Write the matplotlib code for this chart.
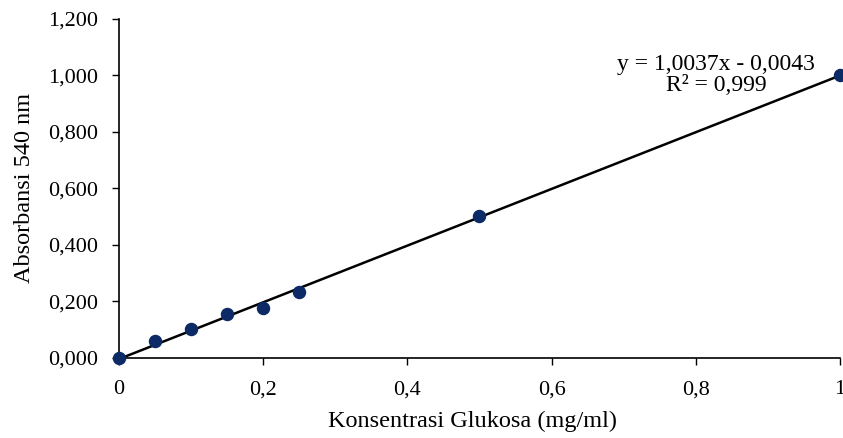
import numpy as np
import matplotlib
matplotlib.use("Agg")
import matplotlib.pyplot as plt

plt.rcParams['font.family'] = ['Liberation Serif', 'DejaVu Serif']

# data kurva standar glukosa
konsentrasi = [0, 0.05, 0.1, 0.15, 0.2, 0.25, 0.5, 1.0]
absorbansi = [0.0, 0.058, 0.101, 0.155, 0.178, 0.233, 0.502, 1.0]
slope = 1.0037
intercept = -0.0043

x_ticks = [0, 0.2, 0.4, 0.6, 0.8, 1.0]
x_labels = ['0', '0,2', '0,4', '0,6', '0,8', '1']
y_ticks = [0, 0.2, 0.4, 0.6, 0.8, 1.0, 1.2]
y_labels = ['0,000', '0,200', '0,400', '0,600', '0,800', '1,000', '1,200']

fig = plt.figure(figsize=(8.43, 4.38), dpi=100)
ax = fig.add_axes([0.141, 0.183, 0.8555, 0.774])

# garis regresi
xl = np.array([0, 1.0])
ax.plot(xl, slope * xl + intercept, color='black', lw=1.8, zorder=2)
ax.scatter(konsentrasi, absorbansi, s=75, color='#0b2a66', zorder=3, clip_on=False)

ax.set_xlim(0, 1.0)
ax.set_ylim(0, 1.2)
ax.set_xticks(x_ticks)
ax.set_xticklabels(x_labels)
ax.set_yticks(y_ticks)
ax.set_yticklabels(y_labels)
ax.tick_params(direction='out', length=5, width=1, labelsize=16)
ax.tick_params(axis='x', pad=11)
ax.tick_params(axis='y', pad=10)
for s in ['top', 'right']:
    ax.spines[s].set_visible(False)
for s in ['left', 'bottom']:
    ax.spines[s].set_linewidth(1.2)

ax.set_xlabel('Konsentrasi Glukosa (mg/ml)', fontsize=17.5)
ax.set_ylabel('Absorbansi 540 nm', fontsize=17.5)
ax.xaxis.set_label_coords(0.49, -0.155)
ax.yaxis.set_label_coords(-0.116, 0.5)

ax.text(0.828, 1.0, 'y = 1,0037x - 0,0043\nR² = 0,999', fontsize=17,
        ha='center', va='center', linespacing=1.0)

fig.savefig('out.png', dpi=100)
